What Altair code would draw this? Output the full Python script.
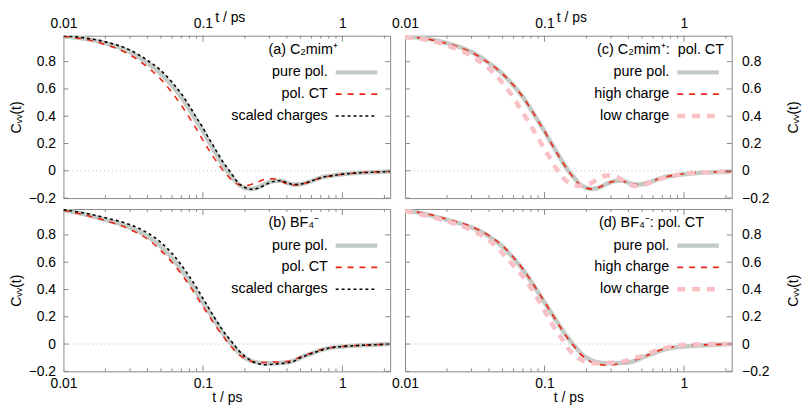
import altair as alt
import pandas as pd

FONT = "Liberation Sans"

t = [0.01, 0.015, 0.02, 0.03, 0.04, 0.05, 0.06, 0.07, 0.08, 0.09, 0.1, 0.11, 0.12,
     0.13, 0.14, 0.15, 0.16, 0.18, 0.2, 0.22, 0.25, 0.28, 0.32, 0.36, 0.4, 0.45,
     0.5, 0.6, 0.7, 0.85, 1.0, 1.3, 1.7, 2.2]

# (a) C2mim+
cat_pure = [0.985, 0.965, 0.935, 0.87, 0.79, 0.71, 0.625, 0.54, 0.45, 0.365, 0.29, 0.215, 0.15,
            0.09, 0.04, -0.005, -0.04, -0.1, -0.125, -0.133, -0.12, -0.095, -0.075, -0.072, -0.088, -0.1,
            -0.098, -0.075, -0.05, -0.035, -0.025, -0.015, -0.01, -0.005]
cat_polct = [0.985, 0.96, 0.925, 0.85, 0.76, 0.67, 0.575, 0.48, 0.39, 0.305, 0.225, 0.155, 0.095,
             0.045, 0.0, -0.035, -0.065, -0.1, -0.11, -0.1, -0.08, -0.062, -0.058, -0.075, -0.095, -0.105,
             -0.1, -0.075, -0.052, -0.035, -0.025, -0.015, -0.008, -0.005]
cat_scaled = [0.99, 0.97, 0.945, 0.885, 0.81, 0.735, 0.65, 0.565, 0.475, 0.39, 0.315, 0.24, 0.175,
              0.115, 0.062, 0.02, -0.02, -0.09, -0.122, -0.135, -0.128, -0.102, -0.078, -0.072, -0.088, -0.1,
              -0.098, -0.075, -0.05, -0.035, -0.025, -0.015, -0.01, -0.005]

# (b) BF4-
an_pure = [0.98, 0.945, 0.91, 0.855, 0.79, 0.715, 0.63, 0.545, 0.46, 0.38, 0.305, 0.24, 0.18,
           0.125, 0.075, 0.035, 0.0, -0.06, -0.1, -0.122, -0.136, -0.14, -0.14, -0.138, -0.135, -0.122,
           -0.1, -0.07, -0.045, -0.025, -0.018, -0.01, -0.005, 0.0]
an_polct = [0.98, 0.94, 0.905, 0.84, 0.77, 0.685, 0.6, 0.515, 0.43, 0.35, 0.275, 0.21, 0.15,
            0.1, 0.055, 0.015, -0.02, -0.075, -0.105, -0.125, -0.135, -0.135, -0.132, -0.13, -0.128, -0.115,
            -0.095, -0.065, -0.042, -0.025, -0.018, -0.01, -0.005, 0.0]
an_scaled = [0.985, 0.955, 0.925, 0.875, 0.815, 0.745, 0.665, 0.58, 0.495, 0.415, 0.335, 0.265, 0.2,
             0.145, 0.095, 0.055, 0.02, -0.045, -0.09, -0.12, -0.145, -0.152, -0.148, -0.143, -0.138, -0.125,
             -0.1, -0.07, -0.045, -0.025, -0.018, -0.01, -0.005, 0.0]

# (c) C2mim+: pol. CT
cat_high = [0.985, 0.963, 0.933, 0.868, 0.79, 0.71, 0.627, 0.542, 0.452, 0.367, 0.29, 0.215, 0.148,
            0.088, 0.037, -0.008, -0.045, -0.103, -0.127, -0.133, -0.118, -0.094, -0.076, -0.075, -0.09, -0.1,
            -0.096, -0.072, -0.05, -0.033, -0.022, -0.013, -0.008, -0.004]
cat_low = [0.98, 0.955, 0.92, 0.84, 0.75, 0.645, 0.535, 0.425, 0.33, 0.24, 0.16, 0.09, 0.025,
           -0.025, -0.065, -0.088, -0.1, -0.11, -0.105, -0.085, -0.05, -0.035, -0.04, -0.065, -0.095, -0.112,
           -0.105, -0.08, -0.055, -0.035, -0.022, -0.013, -0.008, -0.004]

# (d) BF4-: pol. CT
an_high = [0.98, 0.95, 0.915, 0.86, 0.795, 0.72, 0.635, 0.55, 0.465, 0.385, 0.31, 0.242, 0.18,
           0.123, 0.072, 0.03, -0.005, -0.07, -0.11, -0.135, -0.152, -0.155, -0.15, -0.14, -0.13, -0.115,
           -0.1, -0.065, -0.04, -0.02, -0.012, -0.007, -0.003, 0.0]
an_low = [0.975, 0.935, 0.9, 0.835, 0.76, 0.665, 0.575, 0.495, 0.41, 0.325, 0.245, 0.17, 0.105,
          0.055, 0.01, -0.04, -0.07, -0.11, -0.133, -0.14, -0.14, -0.138, -0.135, -0.13, -0.118, -0.1,
          -0.088, -0.055, -0.035, -0.015, -0.005, -0.002, 0.0, 0.0]

y_ticks = [-0.2, 0, 0.2, 0.4, 0.6, 0.8]
x_labels = [0.01, 0.1, 1]
x_major = [0.1, 1]
x_minor = [0.02, 0.03, 0.04, 0.05, 0.06, 0.07, 0.08, 0.09,
           0.2, 0.3, 0.4, 0.5, 0.6, 0.7, 0.8, 0.9, 2]

W, H = 330, 164
GRAY = "#c3cbc7"
RED = "#ec2613"
PINK = "#f9c1c6"
FRAME = "#888888"

x_scale = alt.Scale(type="log", domain=[0.01, 2.2], nice=False)
y_scale = alt.Scale(domain=[-0.2, 0.99], nice=False, zero=False)


def x_axis(orient):
    common = dict(orient=orient, values=x_labels, format="~g", ticks=False, domain=False,
                  grid=False, labelFlush=False, title="t / ps", labelFontSize=14,
                  titleFontSize=14, titleFontWeight="normal", labelColor="black",
                  titleColor="black")
    if orient == "top":
        return alt.Axis(labelPadding=5, titleY=-11, titleX=168, titleBaseline="bottom", **common)
    return alt.Axis(labelPadding=5, titlePadding=0, **common)


def y_axis(orient):
    common = dict(orient=orient, values=y_ticks, format="~g", ticks=False, domain=False,
                  grid=False, title="Cᵥᵥ(t)", labelFontSize=14, titleFontSize=14,
                  titleFontWeight="normal", labelColor="black", titleColor="black")
    if orient == "left":
        return alt.Axis(labelPadding=8, titlePadding=5, **common)
    return alt.Axis(labelPadding=10, titlePadding=18, titleAngle=270, titleBaseline="top", **common)


def panel(label, label_x, names, series, styles, xo, yo, legend_right):
    xa = x_axis(xo)
    ya = y_axis(yo)
    X = lambda f: alt.X(f, type="quantitative", scale=x_scale, axis=xa)
    Y = lambda f: alt.Y(f, type="quantitative", scale=y_scale, axis=ya)

    layers = []
    zero = alt.Chart(pd.DataFrame({"v": [0]})).mark_rule(
        color="#b8b8b8", strokeDash=[1, 3], strokeWidth=1).encode(y=Y("v"))
    layers.append(zero)

    for name, vals, st in zip(names, series, styles):
        df = pd.DataFrame({"t": t, "v": vals})
        kw = dict(color=st["color"], strokeWidth=st["width"], interpolate="monotone", clip=True)
        if "dash" in st:
            kw["strokeDash"] = st["dash"]
        layers.append(alt.Chart(df).mark_line(**kw).encode(x=X("t"), y=Y("v")))

    # inward ticks
    yt = pd.DataFrame({"v": y_ticks})
    layers.append(alt.Chart(yt).mark_rule(color=FRAME).encode(
        y=Y("v"), x=alt.value(0), x2=alt.value(5)))
    layers.append(alt.Chart(yt).mark_rule(color=FRAME).encode(
        y=Y("v"), x=alt.value(W - 5), x2=alt.value(W)))
    xm = pd.DataFrame({"t": x_major})
    xn = pd.DataFrame({"t": x_minor})
    for d, ln in ((xm, 6), (xn, 3)):
        layers.append(alt.Chart(d).mark_rule(color=FRAME).encode(
            x=X("t"), y=alt.value(0), y2=alt.value(ln)))
        layers.append(alt.Chart(d).mark_rule(color=FRAME).encode(
            x=X("t"), y=alt.value(H - ln), y2=alt.value(H)))

    # panel label
    layers.append(alt.Chart(pd.DataFrame({"s": [label]})).mark_text(
        align="left", baseline="middle", fontSize=14.5, font=FONT, color="black").encode(
        x=alt.value(label_x), y=alt.value(14), text="s:N"))

    # legend
    rows = [37, 59, 81]
    for name, st, ry in zip(names, styles, rows):
        layers.append(alt.Chart(pd.DataFrame({"s": [name]})).mark_text(
            align="right", baseline="middle", fontSize=14.5, font=FONT, color="black").encode(
            x=alt.value(legend_right), y=alt.value(ry), text="s:N"))
        kw = dict(color=st["color"], strokeWidth=st["width"])
        if "dash" in st:
            kw["strokeDash"] = st["dash"]
        layers.append(alt.Chart(pd.DataFrame({"s": [name]})).mark_rule(**kw).encode(
            x=alt.value(legend_right + 8), x2=alt.value(legend_right + 50), y=alt.value(ry)))

    return alt.layer(*layers).properties(width=W, height=H)


st_pure = {"color": GRAY, "width": 4.5}
st_ct = {"color": RED, "width": 1.6, "dash": [6, 6]}
st_scaled = {"color": "black", "width": 1.6, "dash": [3, 3]}
st_low = {"color": PINK, "width": 4.5, "dash": [8, 7]}

pa = panel("(a) C₂mim⁺", 207, ["pure pol.", "pol. CT", "scaled charges"],
           [cat_pure, cat_polct, cat_scaled], [st_pure, st_ct, st_scaled], "top", "left", 267)
pb = panel("(b) BF₄⁻", 207, ["pure pol.", "pol. CT", "scaled charges"],
           [an_pure, an_polct, an_scaled], [st_pure, st_ct, st_scaled], "bottom", "left", 267)
pc = panel("(c) C₂mim⁺:\u00a0\u00a0pol. CT", 194, ["pure pol.", "high charge", "low charge"],
           [cat_pure, cat_high, cat_low], [st_pure, st_ct, st_low], "top", "right", 267)
pd_ = panel("(d) BF₄⁻: pol. CT", 196, ["pure pol.", "high charge", "low charge"],
            [an_pure, an_high, an_low], [st_pure, st_ct, st_low], "bottom", "right", 267)

top = alt.hconcat(pa, pc, spacing=15, bounds="flush")
bottom = alt.hconcat(pb, pd_, spacing=15, bounds="flush")
chart = alt.vconcat(top, bottom, spacing=2).properties(
    padding=0
).configure_view(
    stroke=FRAME, strokeWidth=1
).configure_axis(
    labelFont=FONT, titleFont=FONT
).configure_text(font=FONT)

chart.save("out.html", embed_options={"renderer": "svg", "actions": False})
